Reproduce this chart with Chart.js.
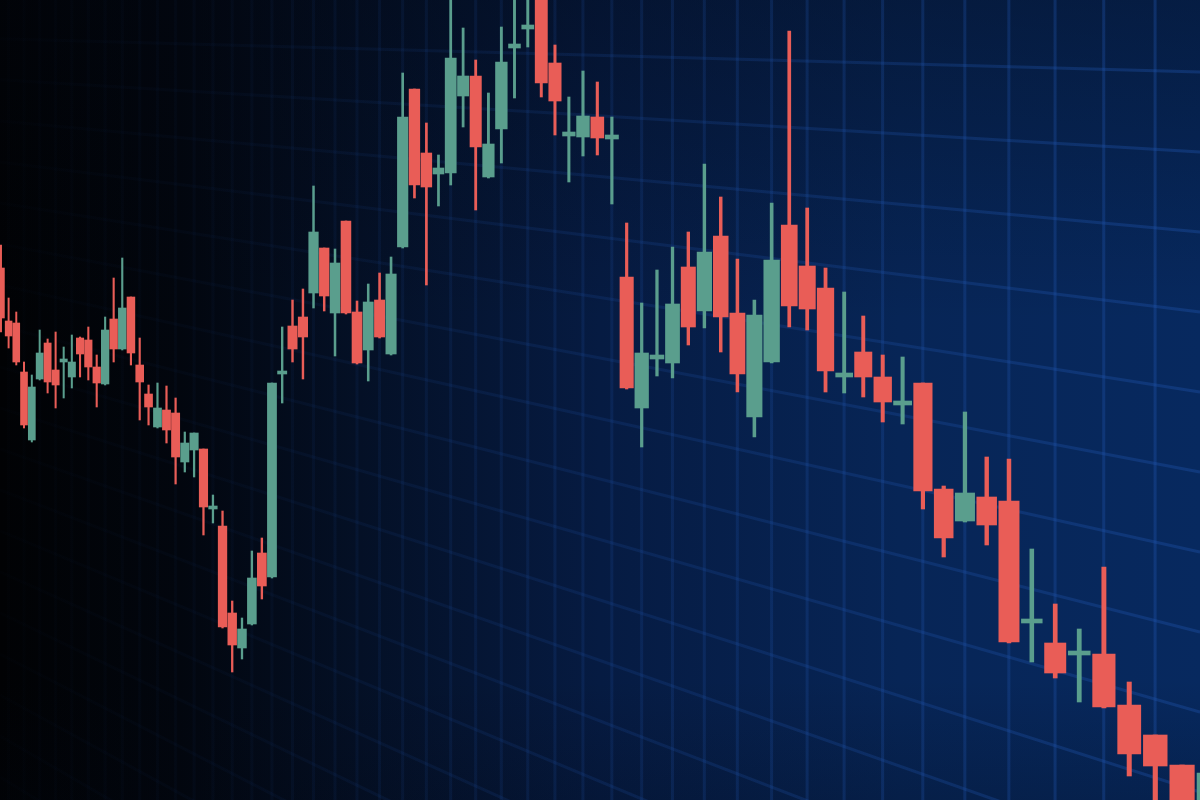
<!DOCTYPE html>
<html>
<head>
<meta charset="utf-8">
<title>Candles</title>
<style>
  html, body { margin: 0; padding: 0; background: #01030a; }
  #wrap { width: 1200px; height: 800px; }
</style>
<script src="https://cdn.jsdelivr.net/npm/chart.js@4.4.1/dist/chart.umd.min.js"></script>
</head>
<body>
<div id="wrap"><canvas id="chart"></canvas></div>
<script>
//--------------------Data-------------------
// one candle per session, oldest first (price units)
const opens = [
  604, 551, 549, 500, 432, 493, 529, 502, 510, 495,
  534, 532, 505, 488, 553, 523, 575, 507, 478, 445,
  462, 459, 410, 422, 423, 363, 346, 259, 224, 248,
  319, 295, 498, 546, 555, 579, 624, 559, 651, 560,
  522, 572, 518, 625, 783, 719, 698, 699, 776, 796,
  695, 743, 824, 843, 892, 809, 736, 735, 755, 733,
  595, 464, 513, 509, 605, 561, 636, 559, 455, 510,
  647, 606, 584, 495, 520, 495, 467, 489, 383, 351,
  375, 371, 249, 229, 217, 218, 167, 137, 107, 52
];
const highs = [
  627, 574, 560, 510, 497, 542, 533, 540, 525, 537,
  535, 545, 517, 555, 594, 614, 575, 534, 487, 489,
  486, 474, 440, 439, 423, 377, 361, 271, 254, 321,
  334, 489, 545, 572, 583, 686, 624, 623, 651, 571,
  588, 599, 615, 799, 783, 749, 717, 882, 844, 812,
  779, 845, 882, 882, 912, 827, 775, 801, 790, 755,
  649, 569, 602, 625, 640, 708, 675, 613, 572, 669,
  841, 664, 604, 580, 556, 517, 515, 489, 386, 460,
  415, 413, 323, 268, 243, 305, 190, 137, 107, 112
];
const lows = [
  540, 524, 507, 444, 430, 492, 479, 464, 474, 484,
  495, 492, 465, 487, 510, 522, 507, 452, 447, 444,
  429, 388, 400, 395, 337, 349, 244, 200, 213, 247,
  273, 294, 469, 510, 493, 564, 561, 516, 558, 508,
  491, 534, 517, 624, 674, 587, 666, 687, 745, 662,
  694, 709, 774, 825, 775, 737, 690, 716, 717, 668,
  483, 425, 496, 494, 527, 544, 520, 480, 435, 509,
  545, 542, 480, 479, 475, 450, 448, 363, 315, 350,
  327, 229, 210, 194, 170, 164, 96, 62, 42, 42
];
const closes = [
  554, 536, 510, 447, 485, 519, 490, 487, 513, 510,
  518, 505, 489, 542, 523, 564, 519, 490, 465, 464,
  442, 415, 429, 439, 365, 366, 245, 227, 243, 294,
  286, 489, 501, 523, 535, 640, 576, 609, 559, 509,
  570, 535, 598, 755, 687, 685, 704, 814, 796, 725,
  728, 810, 828, 847, 789, 771, 740, 756, 734, 737,
  484, 519, 517, 568, 545, 620, 555, 498, 557, 612,
  566, 563, 501, 499, 495, 470, 471, 381, 334, 379,
  347, 230, 253, 199, 221, 165, 118, 106, 60, 99
];

// session numbers 1..90
const sessions = opens.map((_, i) => i + 1);

//--------------------Settings-------------------
// x is "sessions left to the horizon" on a reversed log axis,
// which spreads the candles like the photo's perspective
const HORIZON = 123;
const xMin = 33.34;
const xMax = 122.13;

const priceMin = 72;
const priceMax = 872;
const priceStep = 80;
const sessionStep = 2; // one vertical grid line every 2 sessions

const RED = "#e95d57";
const GREEN = "#5a9e8d";

// where the price lines meet, in canvas pixels
const vanish = { x: -1262, y: 4 };

//--------------------Functions-------------------
function candleColor(ctx) {
  const i = ctx.dataIndex;
  return closes[i] >= opens[i] ? GREEN : RED;
}

let gridGradient;
function getGridColor(chart) {
  if (!gridGradient) {
    const g = chart.ctx.createLinearGradient(0, 0, chart.width, 0);
    g.addColorStop(0, "rgba(30, 82, 170, 0.01)");
    g.addColorStop(0.2, "rgba(30, 82, 170, 0.05)");
    g.addColorStop(0.45, "rgba(30, 82, 170, 0.16)");
    g.addColorStop(0.75, "rgba(30, 82, 170, 0.28)");
    g.addColorStop(1, "rgba(30, 82, 170, 0.38)");
    gridGradient = g;
  }
  return gridGradient;
}

const backdrop = {
  id: "backdrop",
  beforeDraw(chart) {
    const { ctx, width, height } = chart;
    ctx.save();

    const h = ctx.createLinearGradient(0, 0, width, 0);
    h.addColorStop(0, "#010204");
    h.addColorStop(0.15, "#02060e");
    h.addColorStop(0.3, "#041026");
    h.addColorStop(0.5, "#061b42");
    h.addColorStop(0.75, "#072556");
    h.addColorStop(1, "#07295f");
    ctx.fillStyle = h;
    ctx.fillRect(0, 0, width, height);

    const v = ctx.createLinearGradient(0, 0, 0, height);
    v.addColorStop(0, "rgba(2, 6, 16, 0.35)");
    v.addColorStop(0.4, "rgba(2, 6, 16, 0)");
    v.addColorStop(0.85, "rgba(2, 6, 16, 0)");
    v.addColorStop(1, "rgba(2, 6, 16, 0.2)");
    ctx.fillStyle = v;
    ctx.fillRect(0, 0, width, height);

    ctx.restore();
  },
  beforeDatasetsDraw(chart) {
    const { ctx, width, height } = chart;
    const xScale = chart.scales.x;
    const yScale = chart.scales.y;
    ctx.save();
    ctx.strokeStyle = getGridColor(chart);
    ctx.lineWidth = 3;

    // session grid: straight up and down
    sessions
      .filter((s) => s % sessionStep === 0)
      .forEach((s) => {
        const x = xScale.getPixelForValue(HORIZON - s);
        ctx.beginPath();
        ctx.moveTo(x, 0);
        ctx.lineTo(x, height);
        ctx.stroke();
      });

    // price grid: tilted toward the vanishing point
    for (let p = -10 * priceStep; p <= 12 * priceStep; p += priceStep) {
      const yRight = yScale.getPixelForValue(p);
      const yLeft = vanish.y + (yRight - vanish.y) * (0 - vanish.x) / (width - vanish.x);
      ctx.beginPath();
      ctx.moveTo(0, yLeft);
      ctx.lineTo(width, yRight);
      ctx.stroke();
    }
    ctx.restore();
  }
};

const bodies = sessions.map((s, i) => ({ x: HORIZON - s, y: [opens[i], closes[i]] }));
const wicks = sessions.map((s, i) => ({ x: HORIZON - s, y: [lows[i], highs[i]] }));

new Chart(document.getElementById("chart"), {
  type: "bar",
  data: {
    datasets: [
      {
        label: "body",
        data: bodies,
        stack: "candle",
        backgroundColor: candleColor,
        borderWidth: 0,
        barThickness: "flex",
        categoryPercentage: 1,
        barPercentage: 0.9
      },
      {
        label: "wick",
        data: wicks,
        stack: "candle",
        backgroundColor: candleColor,
        borderWidth: 0,
        barThickness: "flex",
        categoryPercentage: 1,
        barPercentage: 0.17
      }
    ]
  },
  options: {
    responsive: true,
    maintainAspectRatio: false,
    animation: false,
    events: [],
    layout: { padding: 0 },
    plugins: {
      legend: { display: false },
      tooltip: { enabled: false }
    },
    scales: {
      x: {
        type: "logarithmic",
        reverse: true,
        min: xMin,
        max: xMax,
        display: false
      },
      y: {
        type: "linear",
        min: priceMin,
        max: priceMax,
        stacked: false,
        display: false
      }
    }
  },
  plugins: [backdrop]
});
</script>
</body>
</html>
